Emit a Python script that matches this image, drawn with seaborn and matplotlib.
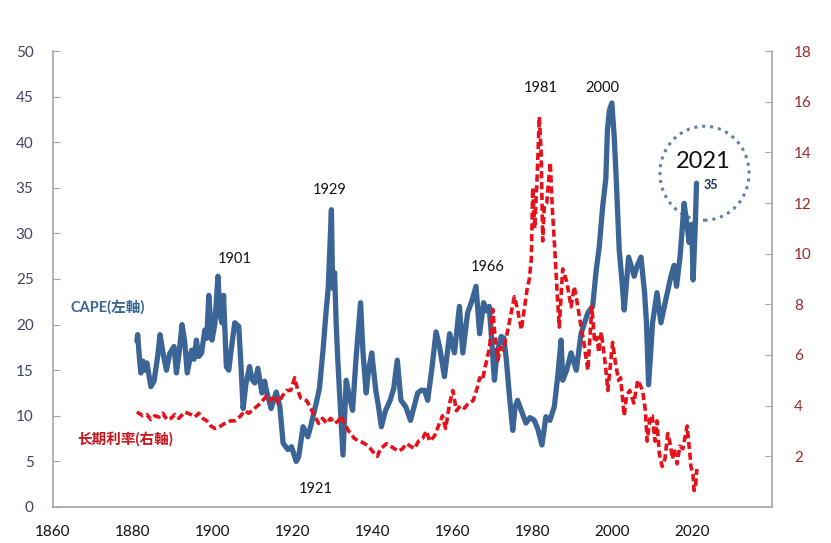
import numpy as np
import pandas as pd
import matplotlib
matplotlib.use("Agg")
import matplotlib.pyplot as plt
from matplotlib.patches import Ellipse
import seaborn as sns

# ----------- DONNÉES ------------------------------------

cape_year = [
    1881.0, 1881.2, 1881.6, 1882.0, 1882.5, 1883.0, 1883.5, 1884.5, 1885.3, 1886.2,
    1886.8, 1887.5, 1888.4, 1889.2, 1890.3, 1890.9, 1891.6, 1892.3, 1893.0, 1893.6,
    1894.7, 1895.3, 1895.9, 1896.5, 1897.2, 1898.0, 1898.5, 1899.0, 1899.8, 1900.5,
    1901.3, 1901.8, 1902.3, 1902.7, 1903.4, 1904.0, 1904.6, 1905.5, 1906.5, 1907.0,
    1907.6, 1908.3, 1909.2, 1909.8, 1910.5, 1911.3, 1912.3, 1913.0, 1913.4, 1914.6,
    1915.9, 1916.8, 1917.6, 1918.8, 1919.7, 1920.3, 1920.9, 1921.5, 1922.6, 1923.8,
    1924.6, 1925.9, 1926.7, 1927.6, 1928.4, 1928.9, 1929.7, 1930.0, 1930.5, 1930.9,
    1931.3, 1931.8, 1932.6, 1933.4, 1934.0, 1935.0, 1935.9, 1937.0, 1937.6, 1938.4,
    1939.0, 1939.8, 1940.8, 1941.5, 1942.2, 1943.2, 1944.4, 1945.3, 1946.2, 1947.1,
    1948.3, 1949.5, 1950.4, 1951.3, 1952.2, 1953.0, 1953.8, 1954.8, 1955.9, 1956.8,
    1958.0, 1959.3, 1960.5, 1961.75, 1962.6, 1963.8, 1964.8, 1965.9, 1966.8, 1967.8,
    1968.5, 1969.2, 1969.8, 1970.5, 1971.2, 1972.2, 1972.9, 1973.5, 1974.3, 1975.1,
    1975.7, 1976.3, 1977.3, 1978.4, 1979.4, 1980.5, 1981.4, 1982.4, 1983.4, 1984.4,
    1985.5, 1986.4, 1987.2, 1987.6, 1988.6, 1989.7, 1991.0, 1992.2, 1993.9, 1995.1,
    1996.0, 1996.75, 1997.6, 1998.4, 1998.8, 1999.3, 1999.9, 2000.5, 2001.0, 2001.75,
    2002.4, 2003.0, 2004.1, 2005.5, 2006.3, 2007.2, 2008.1, 2008.6, 2009.1, 2010.1,
    2011.2, 2012.2, 2013.3, 2014.7, 2015.5, 2016.1, 2017.0, 2018.0, 2018.7, 2019.25,
    2019.9, 2020.25, 2020.8, 2021.1,
]
cape_value = [
    18.2, 18.9, 16.5, 14.7, 16.0, 15.0, 15.8, 13.2, 13.8, 16.5,
    18.9, 17.0, 15.0, 16.8, 17.6, 14.7, 17.0, 20.0, 18.0, 14.7,
    17.2, 16.2, 18.3, 16.5, 16.9, 19.4, 18.5, 23.2, 18.3, 20.0,
    25.3, 21.0, 20.2, 23.2, 15.4, 15.0, 17.2, 20.2, 19.8, 16.0,
    10.8, 13.5, 15.4, 14.0, 13.6, 15.2, 12.5, 13.8, 12.8, 10.8,
    12.6, 11.0, 7.0, 6.3, 6.6, 5.8, 5.0, 5.5, 8.8, 7.7,
    9.0, 11.4, 13.0, 17.2, 21.6, 24.0, 32.6, 24.0, 25.7, 20.0,
    16.1, 12.0, 5.7, 13.9, 12.5, 10.6, 16.5, 22.4, 17.0, 12.5,
    15.0, 16.9, 12.8, 11.0, 8.8, 10.5, 11.7, 13.0, 16.1, 11.7,
    11.0, 9.5, 11.0, 12.5, 12.8, 12.8, 11.7, 15.0, 19.2, 17.5,
    14.3, 19.0, 16.9, 22.0, 16.9, 21.3, 22.5, 24.2, 19.0, 22.4,
    21.5, 22.0, 18.5, 13.9, 17.0, 18.7, 18.5, 16.1, 12.0, 8.4,
    11.0, 11.7, 10.5, 9.2, 9.8, 9.5, 8.5, 6.8, 9.9, 9.5,
    11.0, 14.5, 18.3, 13.9, 15.0, 16.9, 15.0, 19.0, 21.3, 22.0,
    26.0, 28.5, 32.9, 36.0, 41.3, 43.5, 44.3, 40.6, 36.0, 28.2,
    25.0, 21.6, 27.4, 25.3, 26.5, 27.4, 23.5, 20.0, 13.4, 20.2,
    23.5, 20.2, 22.5, 25.3, 26.5, 24.2, 27.5, 33.3, 31.0, 29.0,
    31.0, 24.9, 31.0, 35.5,
]

rate_year = [
    1881.0, 1882.5, 1883.5, 1884.5, 1885.5, 1886.5, 1887.5, 1888.5, 1889.5, 1890.5,
    1891.5, 1893.0, 1894.5, 1895.5, 1896.5, 1897.5, 1898.5, 1899.5, 1900.5, 1901.5,
    1903.0, 1904.5, 1905.5, 1907.0, 1908.0, 1909.0, 1910.5, 1912.0, 1913.5, 1914.5,
    1915.5, 1916.5, 1917.5, 1918.5, 1919.5, 1920.5, 1921.3, 1922.0, 1923.5, 1924.5,
    1925.5, 1926.5, 1927.5, 1928.5, 1929.5, 1930.5, 1931.5, 1932.0, 1933.0, 1934.0,
    1935.5, 1936.5, 1937.5, 1938.5, 1939.5, 1940.5, 1941.2, 1942.0, 1943.5, 1944.5,
    1945.5, 1946.5, 1947.5, 1948.5, 1949.5, 1950.5, 1951.5, 1952.5, 1953.5, 1954.3,
    1955.5, 1956.5, 1957.5, 1958.3, 1959.3, 1960.1, 1961.0, 1962.0, 1963.0, 1964.0,
    1965.2, 1966.2, 1966.8, 1967.5, 1968.3, 1969.3, 1970.1, 1970.6, 1971.4, 1972.0,
    1972.7, 1973.5, 1974.5, 1975.5, 1976.3, 1977.25, 1977.8, 1978.7, 1979.25, 1979.75,
    1980.1, 1980.6, 1981.2, 1981.75, 1982.2, 1982.6, 1983.0, 1983.6, 1984.5, 1985.0,
    1985.5, 1986.2, 1986.75, 1987.6, 1988.0, 1988.6, 1989.25, 1989.7, 1990.5, 1991.3,
    1992.2, 1992.8, 1993.9, 1994.9, 1995.6, 1996.25, 1996.6, 1997.25, 1998.3, 1998.9,
    2000.1, 2000.8, 2001.6, 2002.1, 2003.0, 2003.6, 2004.4, 2005.4, 2006.4, 2006.75,
    2007.6, 2008.3, 2008.75, 2009.5, 2010.0, 2010.7, 2011.2, 2011.8, 2012.5, 2013.2,
    2013.9, 2014.5, 2015.1, 2015.5, 2016.25, 2016.9, 2017.7, 2018.75, 2019.5, 2019.7,
    2020.2, 2020.5, 2020.9, 2021.2,
]
rate_value = [
    3.75, 3.6, 3.65, 3.45, 3.6, 3.55, 3.7, 3.45, 3.5, 3.65,
    3.5, 3.75, 3.65, 3.55, 3.7, 3.5, 3.4, 3.2, 3.1, 3.15,
    3.3, 3.4, 3.4, 3.6, 3.8, 3.7, 3.9, 4.1, 4.4, 4.2,
    4.4, 4.1, 4.4, 4.6, 4.6, 5.1, 4.6, 4.3, 4.2, 3.9,
    3.6, 3.3, 3.5, 3.3, 3.5, 3.3, 3.4, 3.6, 3.3, 3.0,
    2.7, 2.6, 2.55, 2.45, 2.3, 2.1, 2.0, 2.3, 2.5, 2.4,
    2.3, 2.2, 2.3, 2.5, 2.4, 2.3, 2.6, 2.7, 3.0, 2.6,
    2.8, 3.2, 3.6, 3.1, 4.1, 4.6, 3.8, 4.0, 3.9, 4.1,
    4.2, 4.7, 5.1, 5.0, 5.6, 6.3, 7.8, 6.8, 5.8, 6.3,
    6.2, 6.7, 7.5, 8.3, 7.8, 7.0, 7.6, 8.6, 9.0, 9.8,
    12.6, 11.0, 13.0, 15.4, 14.0, 10.5, 11.9, 12.0, 13.6, 11.8,
    10.5, 8.5, 7.1, 9.4, 9.2, 8.9, 8.3, 7.9, 8.7, 8.0,
    7.1, 6.6, 5.4, 7.9, 6.5, 6.7, 6.1, 6.9, 5.6, 4.6,
    6.5, 5.7, 5.0, 5.1, 3.6, 4.4, 4.6, 4.1, 5.0, 4.9,
    4.6, 3.8, 2.6, 3.6, 3.6, 2.6, 3.4, 2.1, 1.6, 1.9,
    2.9, 2.5, 1.9, 2.3, 1.7, 2.4, 2.3, 3.2, 2.0, 1.6,
    1.3, 0.65, 0.9, 1.5,
]

x_ticks = [1860, 1880, 1900, 1920, 1940, 1960, 1980, 2000, 2020]
left_ticks = [0, 5, 10, 15, 20, 25, 30, 35, 40, 45, 50]
right_ticks = [2, 4, 6, 8, 10, 12, 14, 16, 18]

# (texte, année, valeur CAPE)
peak_labels = [
    ("1901", 1905.5, 27.2),
    ("1929", 1929.3, 34.8),
    ("1921", 1925.8, 2.0),
    ("1966", 1968.8, 26.3),
    ("1981", 1982.0, 45.9),
    ("2000", 1997.5, 45.9),
]

# ----------- TRACÉ -------------

BLUE = "#3B6596"
RED = "#E5121B"
GREY = "#A6A6A6"

sns.set_style("white")
plt.rcParams["font.family"] = ["Lato", "Noto Sans CJK SC", "DejaVu Sans"]

cape = pd.DataFrame({"year": cape_year, "cape": cape_value})
rate = pd.DataFrame({"year": rate_year, "rate": rate_value})

fig = plt.figure(figsize=(8.31, 5.43), dpi=100)
ax = fig.add_axes([53 / 831, 36 / 543, 719 / 831, 456 / 543])

sns.lineplot(data=cape, x="year", y="cape", ax=ax, color=BLUE, linewidth=3.8)
ax.set_xlim(1860, 2040)
ax.set_ylim(0, 50)
ax.set_xticks(x_ticks)
ax.set_yticks(left_ticks)
ax.set_xlabel("")
ax.set_ylabel("")

ax2 = ax.twinx()
sns.lineplot(data=rate, x="year", y="rate", ax=ax2, color=RED, linewidth=2.6)
ax2.lines[0].set_linestyle((0, (2.0, 1.0)))
ax2.set_ylim(0, 18)
ax2.set_yticks(right_ticks)
ax2.set_ylabel("")

for a in (ax, ax2):
    a.spines["top"].set_visible(False)
    for s in ("left", "right", "bottom"):
        a.spines[s].set_color(GREY)
        a.spines[s].set_linewidth(1.2)
ax.spines["right"].set_visible(False)
ax2.spines["left"].set_visible(False)
ax2.spines["bottom"].set_visible(False)

ax.tick_params(axis="y", direction="in", length=5, color=GREY, pad=14,
               labelsize=11, labelcolor="#3F4460")
ax.tick_params(axis="x", direction="out", length=4, color=GREY, pad=9,
               labelsize=11, labelcolor="#111111")
ax2.tick_params(axis="y", direction="in", length=5, color=GREY, pad=16,
                labelsize=11, labelcolor="#9E2A2B")

# Annotations des pics
for txt, yr, val in peak_labels:
    ax.text(yr, val, txt, ha="center", va="center", fontsize=10.5, color="#111111")

ax.text(1864.3, 21.9, "CAPE(左軸)", ha="left", va="center", fontsize=10.5,
        color=BLUE, fontweight="bold")
ax.text(1866.0, 7.3, "长期利率(右軸)", ha="left", va="center", fontsize=10.5,
        color="#C8161D", fontweight="bold")

# Cercle 2021
ax.add_patch(Ellipse((2023.1, 36.6), width=22.3, height=10.3, fill=False,
                     edgecolor="#5F7FA3", linestyle=(0, (1, 1.6)), linewidth=2.2,
                     clip_on=False))
ax.text(2022.8, 37.9, "2021", ha="center", va="center", fontsize=17, color="#111111")
ax.text(2024.8, 35.3, "35", ha="center", va="center", fontsize=9,
        color="#1F2F5A", fontweight="bold")

fig.savefig("out.png", dpi=100)
